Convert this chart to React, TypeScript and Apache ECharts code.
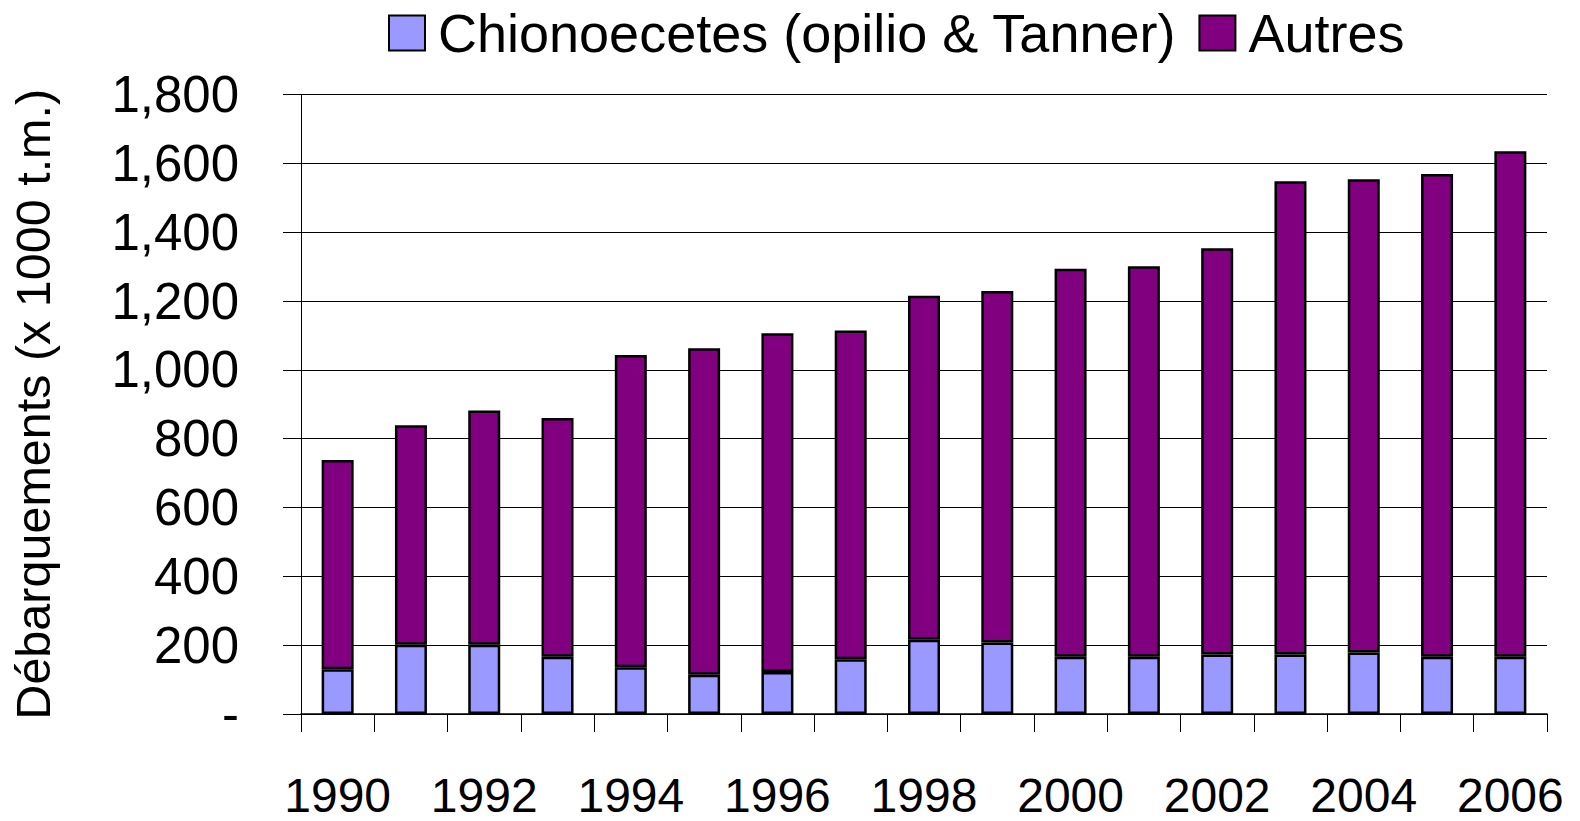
import React, { useEffect, useRef } from "react";
import * as echarts from "echarts";

const years = ["1990","1991","1992","1993","1994","1995","1996","1997","1998","1999","2000","2001","2002","2003","2004","2005","2006"];
const chionoecetes = [130, 201, 201, 166, 136, 114, 122, 159, 216, 208, 166, 166, 173, 173, 179, 166, 166];
const autres = [608, 638, 681, 694, 907, 949, 984, 955, 999, 1021, 1128, 1135, 1180, 1375, 1375, 1403, 1469];
const seriesNames = ["Chionoecetes (opilio & Tanner)", "Autres"];
const yAxisTitle = "Débarquements (x 1000 t.m.)";

const FONT = "'Liberation Sans', Arial, sans-serif";

export default function App() {
  const ref = useRef<HTMLDivElement>(null);
  useEffect(() => {
    if (!ref.current) return;
    const chart = echarts.init(ref.current, null, { renderer: "svg" });
    chart.setOption({
      animation: false,
      backgroundColor: "#ffffff",
      textStyle: { fontFamily: FONT },
      legend: {
        top: 1,
        left: 383,
        itemWidth: 36,
        itemHeight: 35,
        itemGap: 22,
        icon: "rect",
        textStyle: { fontSize: 54, color: "#000", fontFamily: FONT, padding: [0, 0, 0, 8] },
        data: seriesNames,
      },
      grid: { left: 296, right: 33, top: 94.5, bottom: 107, containLabel: false },
      xAxis: {
        type: "category",
        data: years,
        boundaryGap: true,
        axisLine: { show: true, lineStyle: { color: "#000", width: 1.5 } },
        axisTick: { show: true, interval: 0, length: 18, lineStyle: { color: "#000", width: 1 } },
        axisLabel: { interval: 1, margin: 57, fontSize: 48, color: "#000", fontFamily: FONT },
        splitLine: { show: false },
      },
      yAxis: {
        type: "value",
        min: 0,
        max: 1800,
        interval: 200,
        name: yAxisTitle,
        nameLocation: "middle",
        nameGap: 244,
        nameTextStyle: { fontSize: 48.5, color: "#000", fontFamily: FONT },
        axisLine: { show: true, lineStyle: { color: "#000", width: 1 } },
        axisTick: { show: true, length: 18, lineStyle: { color: "#000", width: 1 } },
        axisLabel: {
          margin: 62,
          fontSize: 51,
          color: "#000",
          fontFamily: FONT,
          formatter: (v: number) => (v === 0 ? "-" : v.toLocaleString("en-US")),
        },
        splitLine: { show: true, lineStyle: { color: "#000", width: 1 } },
      },
      series: [
        {
          name: seriesNames[0],
          type: "bar",
          stack: "total",
          data: chionoecetes,
          barWidth: 32,
          itemStyle: { color: "#9999FF", borderColor: "#000", borderWidth: 2.5 },
        },
        {
          name: seriesNames[1],
          type: "bar",
          stack: "total",
          data: autres,
          barWidth: 32,
          itemStyle: { color: "#800080", borderColor: "#000", borderWidth: 2.5 },
        },
      ],
    });
    return () => chart.dispose();
  }, []);
  return (
    <div
      ref={ref}
      style={{ position: "fixed", left: 0, top: 0, width: 1580, height: 821 }}
    />
  );
}
